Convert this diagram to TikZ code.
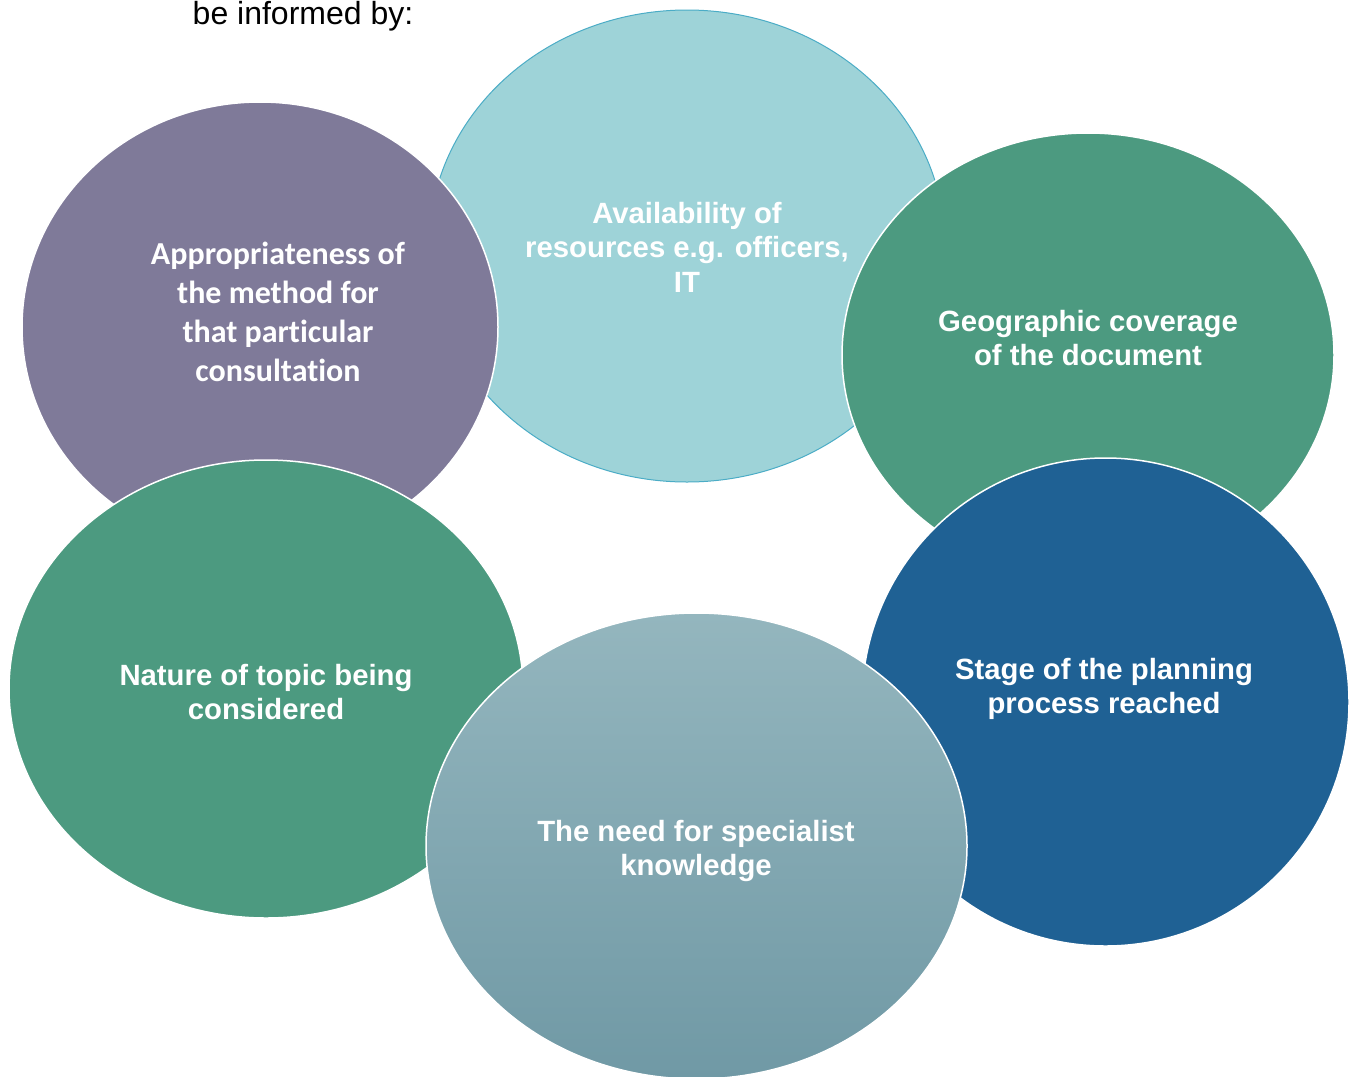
\documentclass[tikz,border=0pt]{standalone}
\usepackage{fontspec}
\setmainfont{Liberation Sans}
\newfontfamily\calib[Ligatures=NoCommon]{Carlito}
\usetikzlibrary{shapes.geometric}
\definecolor{cPurple}{HTML}{7F7A99}
\definecolor{cTeal}{HTML}{9ED3D8}
\definecolor{cTealLine}{HTML}{4BACC6}
\definecolor{cGreen}{HTML}{4C9A80}
\definecolor{cBlue}{HTML}{1F6194}
\definecolor{cGradTop}{HTML}{94B6BE}
\definecolor{cGradBot}{HTML}{7099A5}
\tikzset{
  blob/.style={ellipse, inner sep=0pt, draw=white, line width=1.5pt},
  lab/.style={text=white, align=center, font=\bfseries\fontsize{29.3}{34.5}\selectfont},
  labc/.style={text=white, align=center, font=\calib\bfseries\fontsize{32}{39}\selectfont},
}
\begin{document}
\begin{tikzpicture}[x=1pt,y=-1pt]
\useasboundingbox (0,0) rectangle (1354,1076);
\node[ellipse, inner sep=0pt, fill=cTeal, draw=cTealLine, line width=1pt, minimum width=516pt, minimum height=472pt] (avail) at (687,246) {};
\node[blob, fill=cPurple, minimum width=476pt, minimum height=450pt] (approp) at (260,327) {};
\node[blob, fill=cGreen, minimum width=492pt, minimum height=444pt] (geo) at (1088,355) {};
\node[blob, fill=cGreen, minimum width=514pt, minimum height=458pt] (nature) at (266,689) {};
\node[blob, fill=cBlue, minimum width=487pt, minimum height=488pt] (stage) at (1105.5,702) {};
\node[blob, top color=cGradTop, bottom color=cGradBot, minimum width=541pt, minimum height=466pt] (need) at (696.5,846) {};

\node[anchor=base, font=\fontsize{32}{38}\selectfont] (intro) at (303,24) {be informed by:};

\node[labc] (tapprop) at (278,312) {Appropriateness of\\the method for\\that particular\\consultation};
\node[lab] (tavail) at (687,247) {Availability of\\resources e.g. officers,\\IT};
\node[lab] (tgeo) at (1088,338) {Geographic coverage\\of the document};
\node[lab] (tstage) at (1104,689) {Stage of the planning\\process reached};
\node[lab] (tnature) at (266,692) {Nature of topic being\\considered};
\node[lab] (tneed) at (696,851) {The need for specialist\\knowledge};
\end{tikzpicture}
\end{document}
